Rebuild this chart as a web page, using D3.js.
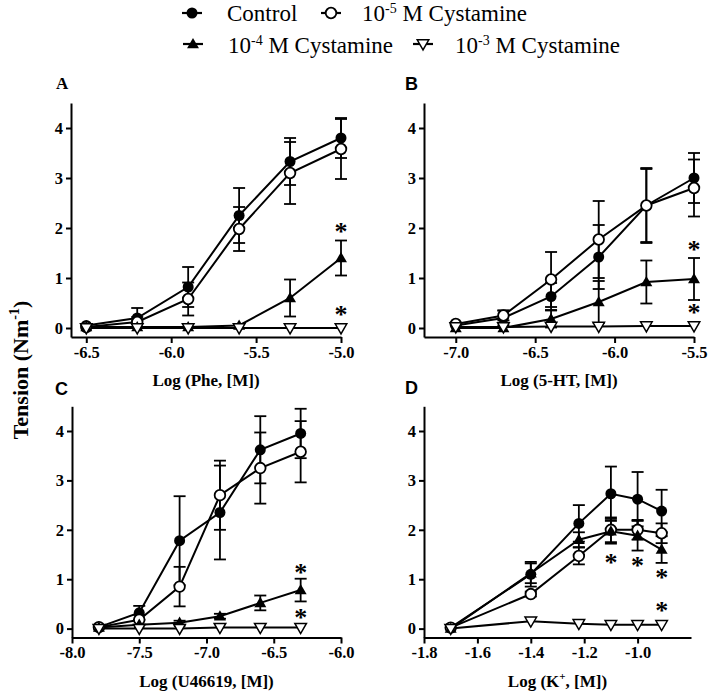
<!DOCTYPE html>
<html>
<head>
<meta charset="utf-8">
<script src="https://cdn.jsdelivr.net/npm/d3@7"></script>
<style>
  html, body { margin: 0; padding: 0; background: #fff; }
  svg { display: block; }
  text { font-family: "Liberation Serif", "Times New Roman", Times, serif; }
</style>
</head>
<body>
<svg id="chart" width="709" height="694"></svg>
<script>
// ---------------- DATA ----------------
const seriesLabels = ["Control", "10-5 M Cystamine", "10-4 M Cystamine", "10-3 M Cystamine"];
const yTicks = [0, 1, 2, 3, 4];

// Panel A: Phe
const pheX = [-6.5, -6.2, -5.9, -5.6, -5.3, -5.0];
const pheControl = [0.05, 0.2, 0.82, 2.25, 3.33, 3.8];
const pheControlErr = [0.03, 0.2, 0.4, 0.55, 0.47, 0.4];
const pheCys5 = [0.02, 0.12, 0.58, 1.98, 3.1, 3.58];
const pheCys5Err = [0.02, 0.1, 0.33, 0.44, 0.62, 0.6];
const pheCys4 = [0.02, 0.02, 0.02, 0.05, 0.6, 1.4];
const pheCys4Err = [0, 0, 0, 0.02, 0.37, 0.35];
const pheCys3 = [0.0, 0.0, 0.0, 0.0, 0.0, 0.0];
const pheCys3Err = [0, 0, 0, 0, 0, 0];
const pheTicks = [-6.5, -6.0, -5.5, -5.0];
const pheStars = [[-5.0, 2.03], [-5.0, 0.37]];

// Panel B: 5-HT
const htX = [-7.0, -6.7, -6.4, -6.1, -5.8, -5.5];
const htControl = [0.05, 0.2, 0.63, 1.42, 2.45, 3.0];
const htControlErr = [0.03, 0.15, 0.27, 0.64, 0.75, 0.5];
const htCys5 = [0.08, 0.25, 0.97, 1.77, 2.45, 2.8];
const htCys5Err = [0.03, 0.1, 0.55, 0.77, 0.73, 0.57];
const htCys4 = [0.0, 0.0, 0.18, 0.52, 0.92, 0.98];
const htCys4Err = [0, 0, 0.17, 0.42, 0.43, 0.42];
const htCys3 = [0.02, 0.02, 0.03, 0.03, 0.04, 0.04];
const htCys3Err = [0, 0, 0, 0, 0, 0];
const htTicks = [-7.0, -6.5, -6.0, -5.5];
const htStars = [[-5.5, 1.67], [-5.5, 0.4]];

// Panel C: U46619
const uX = [-7.8, -7.5, -7.2, -6.9, -6.6, -6.3];
const uControl = [0.03, 0.32, 1.78, 2.35, 3.62, 3.95];
const uControlErr = [0.02, 0.14, 0.9, 0.95, 0.68, 0.5];
const uCys5 = [0.03, 0.18, 0.85, 2.7, 3.25, 3.58];
const uCys5Err = [0.02, 0.1, 0.4, 0.7, 0.72, 0.62];
const uCys4 = [0.02, 0.08, 0.12, 0.25, 0.52, 0.78];
const uCys4Err = [0, 0.03, 0.04, 0.05, 0.15, 0.23];
const uCys3 = [0.0, 0.0, 0.0, 0.02, 0.02, 0.02];
const uCys3Err = [0, 0, 0, 0, 0, 0];
const uTicks = [-8.0, -7.5, -7.0, -6.5, -6.0];
const uStars = [[-6.3, 1.23], [-6.3, 0.32]];

// Panel D: K+
const kX = [-1.7, -1.4, -1.22, -1.1, -1.0, -0.91];
const kControl = [0.02, 1.1, 2.13, 2.73, 2.62, 2.38];
const kControlErr = [0.02, 0.25, 0.37, 0.55, 0.55, 0.43];
const kCys5 = [0.02, 0.7, 1.47, 2.0, 2.0, 1.93];
const kCys5Err = [0.02, 0.05, 0.17, 0.25, 0.2, 0.2];
const kCys4 = [0.0, 1.12, 1.8, 1.97, 1.88, 1.6];
const kCys4Err = [0, 0.2, 0.15, 0.25, 0.3, 0.27];
const kCys3 = [0.0, 0.15, 0.1, 0.08, 0.08, 0.08];
const kCys3Err = [0, 0, 0, 0, 0, 0];
const kTicks = [-1.8, -1.6, -1.4, -1.2, -1.0];
const kStars = [[-1.1, 1.43], [-1.0, 1.36], [-0.91, 1.13], [-0.91, 0.45]];

// ---------------- DRAWING ----------------
const SERIF = "'Liberation Serif', 'Times New Roman', Times, serif";
const SANS = "'Liberation Sans', Arial, Helvetica, sans-serif";
const svg = d3.select("#chart");
const markerTypes = ["filledCircle", "openCircle", "filledTri", "openTriDown"];

function drawMarker(g, type, x, y) {
  if (type === "filledCircle") {
    g.append("circle").attr("cx", x).attr("cy", y).attr("r", 5.5).attr("fill", "#000");
  } else if (type === "openCircle") {
    g.append("circle").attr("cx", x).attr("cy", y).attr("r", 5.3)
      .attr("fill", "#fff").attr("stroke", "#000").attr("stroke-width", 1.8);
  } else if (type === "filledTri") {
    const s = d3.symbol().type(d3.symbolTriangle).size(62);
    g.append("path").attr("d", s()).attr("transform", `translate(${x},${y + 0.8})`).attr("fill", "#000");
  } else {
    const s = d3.symbol().type(d3.symbolTriangle).size(58);
    g.append("path").attr("d", s()).attr("transform", `translate(${x},${y - 0.8}) rotate(180)`)
      .attr("fill", "#fff").attr("stroke", "#000").attr("stroke-width", 1.5);
  }
}

function panel(opts) {
  const { xs, series, errs, xDomain, xRange, yRange, xTicks, stars, label, labelPos, labelSans, title, titleSup, titleY } = opts;
  const x = d3.scaleLinear().domain(xDomain).range(xRange);
  const y = d3.scaleLinear().domain([-0.18, 4.5]).range(yRange);
  const g = svg.append("g");

  const yAxis = d3.axisLeft(y).tickValues(yTicks).tickSize(5).tickSizeOuter(0).tickPadding(3)
    .tickFormat(d3.format("d"));
  const gy = g.append("g").attr("transform", `translate(${xRange[0]},0)`).call(yAxis);
  const xAxis = d3.axisBottom(x).tickValues(xTicks).tickSize(6).tickSizeOuter(0).tickPadding(3)
    .tickFormat(d => d.toFixed(1).replace("\u2212", "-"));
  const gx = g.append("g").attr("transform", `translate(0,${yRange[0]})`).call(xAxis);
  [gx, gy].forEach(a => {
    a.attr("font-family", null);
    a.select(".domain").attr("stroke", "#000").attr("stroke-width", 2);
    a.selectAll(".tick line").attr("stroke", "#000").attr("stroke-width", 2);
    a.selectAll(".tick text").attr("fill", "#000").style("font-family", SERIF)
      .style("font-weight", "bold").style("font-size", "16.5px");
  });

  series.forEach((vals, si) => {
    const sg = g.append("g");
    const err = errs[si];
    vals.forEach((v, i) => {
      const e = err[i];
      if (e <= 0.03) return;
      const cx = x(xs[i]);
      sg.append("line").attr("x1", cx).attr("x2", cx).attr("y1", y(v - e)).attr("y2", y(v + e))
        .attr("stroke", "#000").attr("stroke-width", 1.8);
      [v - e, v + e].forEach(t => {
        sg.append("line").attr("x1", cx - 6).attr("x2", cx + 6).attr("y1", y(t)).attr("y2", y(t))
          .attr("stroke", "#000").attr("stroke-width", 1.8);
      });
    });
    const line = d3.line().x((d, i) => x(xs[i])).y(d => y(d));
    sg.append("path").datum(vals).attr("d", line).attr("fill", "none")
      .attr("stroke", "#000").attr("stroke-width", 2);
  });
  series.forEach((vals, si) => {
    const mg = g.append("g");
    vals.forEach((v, i) => drawMarker(mg, markerTypes[si], x(xs[i]), y(v)));
  });

  stars.forEach(s => {
    g.append("text").attr("x", x(s[0])).attr("y", y(s[1]) + 13)
      .attr("text-anchor", "middle").style("font-family", SERIF)
      .style("font-size", "26px").style("font-weight", "bold").text("*");
  });

  g.append("text").attr("x", labelPos[0]).attr("y", labelPos[1])
    .style("font-family", labelSans ? SANS : SERIF)
    .style("font-weight", "bold").style("font-size", labelSans ? "18px" : "17px").text(label);

  const t = g.append("text").attr("x", (xRange[0] + xRange[1]) / 2).attr("y", titleY)
    .attr("text-anchor", "middle").style("font-family", SERIF)
    .style("font-weight", "bold").style("font-size", "17px");
  if (titleSup) {
    t.append("tspan").text(title[0]);
    t.append("tspan").attr("dy", -7).style("font-size", "11px").text(titleSup);
    t.append("tspan").attr("dy", 7).text(title[1]);
  } else {
    t.text(title);
  }
}

panel({ xs: pheX, series: [pheControl, pheCys5, pheCys4, pheCys3],
  errs: [pheControlErr, pheCys5Err, pheCys4Err, pheCys3Err],
  xDomain: [-6.59, -5.0], xRange: [71, 341], yRange: [337, 103], xTicks: pheTicks, stars: pheStars,
  label: "A", labelPos: [56, 88.5], labelSans: false, title: "Log (Phe, [M])", titleY: 386 });

panel({ xs: htX, series: [htControl, htCys5, htCys4, htCys3],
  errs: [htControlErr, htCys5Err, htCys4Err, htCys3Err],
  xDomain: [-7.2, -5.5], xRange: [424, 694], yRange: [337, 103], xTicks: htTicks, stars: htStars,
  label: "B", labelPos: [405, 90], labelSans: true, title: "Log (5-HT, [M])", titleY: 386 });

panel({ xs: uX, series: [uControl, uCys5, uCys4, uCys3],
  errs: [uControlErr, uCys5Err, uCys4Err, uCys3Err],
  xDomain: [-8.0, -6.0], xRange: [72, 341], yRange: [637.5, 406.3], xTicks: uTicks, stars: uStars,
  label: "C", labelPos: [55, 395], labelSans: true, title: "Log (U46619, [M])", titleY: 687 });

panel({ xs: kX, series: [kControl, kCys5, kCys4, kCys3],
  errs: [kControlErr, kCys5Err, kCys4Err, kCys3Err],
  xDomain: [-1.8, -0.8], xRange: [424, 691], yRange: [637.5, 406.3], xTicks: kTicks, stars: kStars,
  label: "D", labelPos: [405, 394], labelSans: true, title: ["Log (K", ", [M])"], titleSup: "+", titleY: 687 });

const yt = svg.append("text").attr("transform", "translate(28,370) rotate(-90)")
  .attr("text-anchor", "middle").style("font-family", SERIF)
  .style("font-weight", "bold").style("font-size", "22px");
yt.append("tspan").text("Tension (Nm");
yt.append("tspan").attr("dy", -9).style("font-size", "14px").text("-1");
yt.append("tspan").attr("dy", 9).text(")");

const legendItems = [
  { type: "filledCircle", mx: 192, my: 13, tx: 227, ty: 21, base: "Control" },
  { type: "openCircle", mx: 331, my: 13, tx: 362, ty: 21, base: "10", sup: "-5", rest: " M Cystamine" },
  { type: "filledTri", mx: 193, my: 44, tx: 228, ty: 53, base: "10", sup: "-4", rest: " M Cystamine" },
  { type: "openTriDown", mx: 423, my: 44, tx: 455, ty: 53, base: "10", sup: "-3", rest: " M Cystamine" }
];
legendItems.forEach(it => {
  const lg = svg.append("g");
  lg.append("line").attr("x1", it.mx - 10).attr("x2", it.mx + 10).attr("y1", it.my).attr("y2", it.my)
    .attr("stroke", "#000").attr("stroke-width", 2.2);
  drawMarker(lg, it.type, it.mx, it.my);
  const t = lg.append("text").attr("x", it.tx).attr("y", it.ty)
    .style("font-family", SERIF).style("font-size", "23px");
  t.append("tspan").text(it.base);
  if (it.sup) {
    t.append("tspan").attr("dy", -8).style("font-size", "14px").text(it.sup);
    t.append("tspan").attr("dy", 8).text(it.rest);
  }
});
</script>
</body>
</html>
